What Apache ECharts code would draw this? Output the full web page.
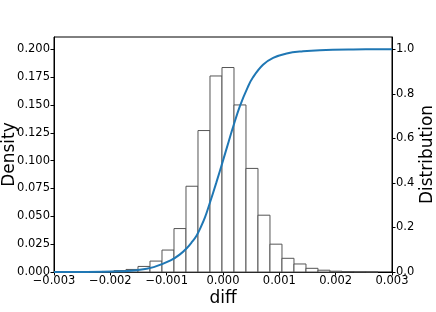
<!DOCTYPE html>
<html>
<head>
<meta charset="utf-8">
<script src="https://cdn.jsdelivr.net/npm/echarts@6/dist/echarts.min.js"></script>
<style>
html,body{margin:0;padding:0;background:#fff;}
#chart{width:436px;height:312px;}
</style>
</head>
<body>
<div id="chart"></div>
<script>
// Histogram bin edges (diff values)
var binEdges = [-0.002361, -0.002148, -0.001935, -0.001722, -0.001509, -0.001296,
  -0.001083, -0.000870, -0.000657, -0.000444, -0.000231, -0.000018,
  0.000195, 0.000408, 0.000621, 0.000834, 0.001047, 0.001260,
  0.001473, 0.001686, 0.001899, 0.002112, 0.002325, 0.002538, 0.002751];
// Density per bin
var densities = [0.0002, 0.0005, 0.0012, 0.0023, 0.0050, 0.0098,
  0.0197, 0.0390, 0.0770, 0.1270, 0.1760, 0.1836,
  0.1500, 0.0930, 0.0510, 0.0250, 0.0123, 0.0072,
  0.0033, 0.0016, 0.0007, 0.0004, 0.0002, 0.0001];
// Cumulative distribution
var cdfX = [-0.003, -0.00254, -0.00212, -0.00183, -0.00153, -0.00123, -0.00093, -0.00077,
  -0.00064, -0.00055, -0.00047, -0.00040, -0.00032, -0.00024, -0.00012, 0.0, 0.00010,
  0.00018, 0.00030, 0.00044, 0.00053, 0.00071, 0.00089, 0.00113, 0.00142, 0.00172,
  0.00231, 0.003];
var cdfY = [0.000, 0.0003, 0.001, 0.003, 0.008, 0.022, 0.052, 0.078,
  0.108, 0.135, 0.163, 0.198, 0.245, 0.305, 0.400, 0.500, 0.585,
  0.652, 0.745, 0.830, 0.873, 0.930, 0.961, 0.981, 0.991, 0.996,
  0.999, 1.000];
var xTicks = [-0.003, -0.002, -0.001, 0.000, 0.001, 0.002, 0.003];

var histData = [];
for (var i = 0; i < densities.length; i++) {
  histData.push([binEdges[i], binEdges[i + 1], densities[i]]);
}
var cdfData = [];
for (var j = 0; j < cdfX.length; j++) cdfData.push([cdfX[j], cdfY[j]]);

var FONT = 'DejaVu Sans';
function fmtX(v) {
  if (Math.abs(v) < 1e-9) return '0.000';
  return (v < 0 ? '\u2212' : '') + Math.abs(v).toFixed(3);
}

var chart = echarts.init(document.getElementById('chart'), null, {renderer: 'canvas'});
chart.setOption({
  animation: false,
  backgroundColor: '#fff',
  grid: {left: 54, right: 44, top: 37, bottom: 40, show: true, borderColor: '#000', borderWidth: 1,
    backgroundColor: 'transparent', containLabel: false, outerBoundsMode: 'none'},
  xAxis: {
    type: 'value', min: xTicks[0], max: xTicks[xTicks.length - 1], interval: 0.001,
    name: 'diff', nameLocation: 'middle', nameGap: 18, nameMoveOverlap: false,
    nameTextStyle: {fontFamily: FONT, fontSize: 17, color: '#000', verticalAlign: 'top'},
    axisLine: {show: true, onZero: false, lineStyle: {color: '#000', width: 1}},
    axisTick: {show: true, inside: false, length: 3.5, lineStyle: {color: '#000'}},
    axisLabel: {fontFamily: FONT, fontSize: 11.5, color: '#000', margin: 3, formatter: fmtX, showMinLabel: true, showMaxLabel: true},
    splitLine: {show: false}
  },
  yAxis: [{
    type: 'value', min: 0, max: 0.211, interval: 0.025, position: 'left',
    name: 'Density', nameLocation: 'middle', nameGap: 36, nameRotate: 90, nameMoveOverlap: false,
    nameTextStyle: {fontFamily: FONT, fontSize: 17, color: '#000'},
    axisLine: {show: true, onZero: false, lineStyle: {color: '#000', width: 1}},
    axisTick: {show: true, length: 3.5, lineStyle: {color: '#000'}},
    axisLabel: {fontFamily: FONT, fontSize: 11.5, color: '#000', margin: 4, showMaxLabel: false,
      formatter: function (v) { return v.toFixed(3); }},
    splitLine: {show: false}
  }, {
    type: 'value', min: 0, max: 1.055, interval: 0.2, position: 'right',
    name: 'Distribution', nameLocation: 'middle', nameGap: 27, nameRotate: 90, nameMoveOverlap: false,
    nameTextStyle: {fontFamily: FONT, fontSize: 17, color: '#000'},
    axisLine: {show: true, onZero: false, lineStyle: {color: '#000', width: 1}},
    axisTick: {show: true, length: 3.5, lineStyle: {color: '#000'}},
    axisLabel: {fontFamily: FONT, fontSize: 11.5, color: '#000', margin: 4, showMaxLabel: false,
      formatter: function (v) { return v.toFixed(1); }},
    splitLine: {show: false}
  }],
  series: [{
    type: 'custom',
    yAxisIndex: 0,
    data: histData,
    encode: {x: [0, 1], y: 2},
    renderItem: function (params, api) {
      var p0 = api.coord([api.value(0), api.value(2)]);
      var p1 = api.coord([api.value(1), 0]);
      return {
        type: 'rect',
        shape: {x: p0[0], y: p0[1], width: p1[0] - p0[0], height: p1[1] - p0[1]},
        style: {fill: '#fff', stroke: '#555', lineWidth: 1}
      };
    },
    z: 2
  }, {
    type: 'line',
    yAxisIndex: 1,
    data: cdfData,
    smooth: 0.4,
    showSymbol: false,
    lineStyle: {color: '#1f77b4', width: 2},
    z: 3
  }]
});
</script>
</body>
</html>
